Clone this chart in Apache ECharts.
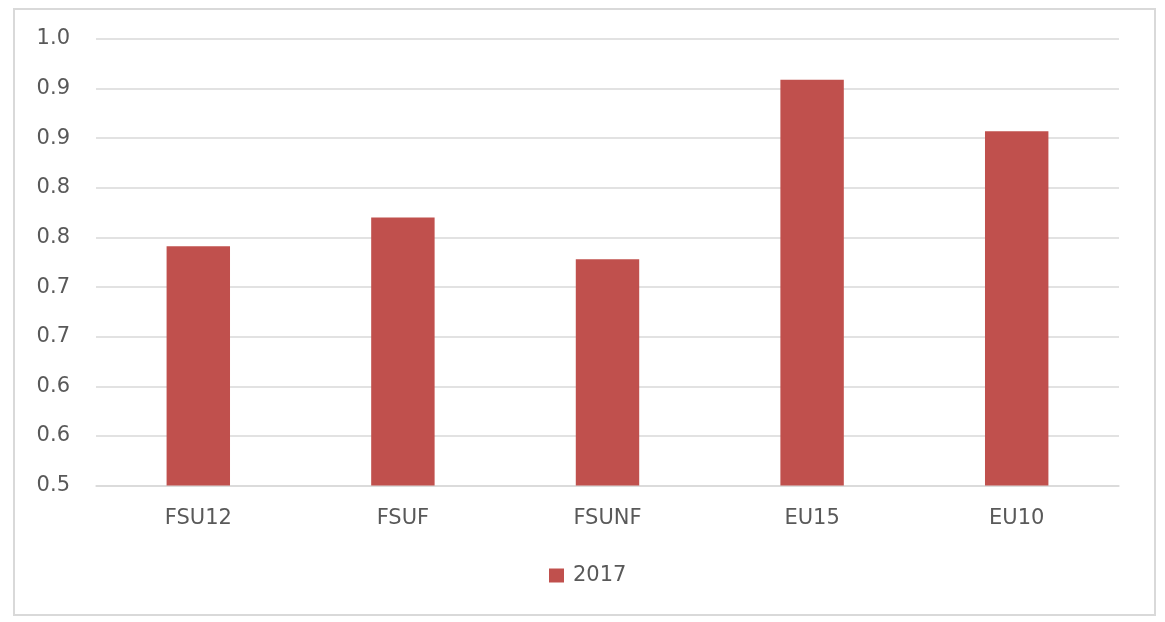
<!DOCTYPE html>
<html>
<head>
<meta charset="utf-8">
<script src="https://cdn.jsdelivr.net/npm/echarts@6/dist/echarts.min.js"></script>
<style>
html,body{margin:0;padding:0;background:#fff;}
#frame{position:absolute;left:13px;top:8px;width:1139px;height:604px;border:2px solid #d9d9d9;box-sizing:content-box;}
#chart{position:absolute;left:0;top:0;width:1165px;height:622px;}
</style>
</head>
<body>
<div id="frame"></div>
<div id="chart"></div>
<script>
const categories = ["FSU12", "FSUF", "FSUNF", "EU15", "EU10"];
const values2017 = [0.741, 0.770, 0.728, 0.909, 0.857];
const tickLabels = ["0.5", "0.6", "0.6", "0.7", "0.7", "0.8", "0.8", "0.9", "0.9", "1.0"];
const seriesName = "2017";

const chart = echarts.init(document.getElementById('chart'));
const font = "'DejaVu Sans', 'Open Sans', sans-serif";
chart.setOption({
  animation: false,
  grid: { left: 96, right: 46, top: 39, bottom: 136.5, containLabel: false },
  xAxis: {
    type: 'category',
    data: categories,
    axisLine: { show: true, lineStyle: { color: '#d9d9d9', width: 1.5 } },
    axisTick: { show: false },
    axisLabel: { color: '#595959', fontSize: 21, fontFamily: font, margin: 23 }
  },
  yAxis: {
    type: 'value',
    min: 0.5, max: 0.95, interval: 0.05,
    axisLine: { show: false },
    axisTick: { show: false },
    splitLine: { lineStyle: { color: '#d9d9d9', width: 1.5 } },
    axisLabel: {
      color: '#595959', fontSize: 21, fontFamily: font, margin: 26,
      formatter: function (v) {
        const i = Math.round((v - 0.5) / 0.05);
        return tickLabels[i] !== undefined ? tickLabels[i] : '';
      }
    }
  },
  legend: {
    data: [seriesName],
    top: 560,
    left: 544,
    itemWidth: 15, itemHeight: 14,
    icon: 'rect',
    textStyle: { color: '#595959', fontSize: 21, fontFamily: font, padding: [0, 0, 0, 4] }
  },
  series: [{
    name: seriesName,
    type: 'bar',
    data: values2017,
    barWidth: '31%',
    itemStyle: { color: '#c0504d' }
  }]
});
</script>
</body>
</html>
